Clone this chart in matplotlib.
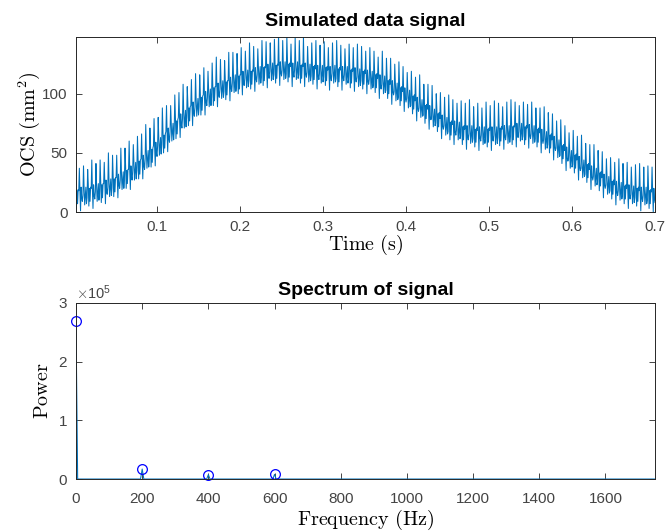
import numpy as np
import matplotlib
matplotlib.use('Agg')
from matplotlib import pyplot as plt
from matplotlib.ticker import ScalarFormatter

plt.rcParams['font.family'] = ['Liberation Sans', 'DejaVu Sans']
plt.rcParams['mathtext.fontset'] = 'cm'

# ---- top panel: simulated signal, one 5 ms pulse period at a time ----
pulse_period = 0.005  # s (200 Hz)

# baseline level of the signal band under each pulse
pulse_base = [14, 15, 15, 16, 17, 18, 19, 21, 22, 24,
              26, 28, 31, 33, 36, 39, 42, 46, 49, 53,
              57, 61, 65, 69, 73, 77, 80, 84, 87, 90,
              93, 96, 98, 101, 103, 105, 106, 108, 110, 111,
              113, 114, 115, 116, 117, 118, 119, 120, 120, 121,
              121, 121, 120, 121, 120, 120, 119, 119, 118, 118,
              118, 117, 118, 117, 117, 117, 116, 116, 115, 115,
              114, 113, 112, 110, 109, 107, 105, 103, 101, 99,
              97, 94, 91, 89, 86, 84, 81, 79, 76, 74,
              72, 71, 70, 68, 67, 67, 66, 66, 66, 66,
              66, 66, 67, 67, 67, 68, 69, 69, 68, 68,
              67, 66, 64, 62, 61, 58, 55, 52, 49, 46,
              44, 41, 38, 36, 33, 31, 29, 26, 24, 22,
              20, 19, 18, 17, 16, 16, 15, 15, 14, 14]

# height of each spike above that baseline
spike_height = [26, 22, 24, 20, 27, 23, 25, 21, 28, 24,
                22, 26, 23, 27, 21, 25, 24, 28, 22, 26,
                23, 27, 25, 21, 26, 24, 28, 22, 25, 27,
                23, 26, 21, 25, 28, 24, 22, 27, 25, 23,
                26, 22, 28, 24, 21, 27, 25, 23, 26, 29,
                24, 27, 22, 26, 25, 28, 21, 24, 27, 23,
                26, 22, 25, 28, 24, 21, 26, 23, 27, 25,
                22, 26, 24, 21, 27, 23, 25, 22, 26, 24,
                21, 25, 23, 27, 22, 24, 26, 21, 25, 23,
                27, 24, 22, 26, 25, 28, 23, 26, 22, 27,
                24, 28, 25, 22, 26, 27, 24, 21, 25, 23,
                26, 22, 24, 27, 23, 25, 22, 26, 24, 21,
                25, 23, 27, 22, 24, 26, 23, 25, 21, 24,
                22, 26, 23, 25, 22, 24, 26, 23, 25, 24]

# shapes of one period around the baseline (spike sample is index 1)
pulse_shapes = [[-4, 0, 8, -11, 4, -7, 5],
                [3, 0, 2, -14, 6, -3, -6],
                [-1, 0, 5, -9, -2, 6, -8]]

# ---- bottom panel: spectrum ----
spec_freq = [0, 5, 195, 200, 205, 395, 400, 405, 595, 600, 605, 1750]
spec_power = [2.69e5, 0, 0, 1.7e4, 0, 0, 0.75e4, 0, 0, 0.8e4, 0, 0]
peak_freq = [0, 200, 400, 600]
peak_power = [2.69e5, 1.7e4, 0.75e4, 0.8e4]

# build the sample sequence
base = np.array(pulse_base, dtype=float)
shapes = np.array([pulse_shapes[k % 3] for k in range(len(base))], dtype=float)
sig = base[:, None] + shapes
sig[:, 1] = base + np.array(spike_height)
sig = sig.ravel()
n_per = len(pulse_shapes[0])
t = np.arange(1, len(sig) + 1) * pulse_period / n_per

matlab_blue = '#0072BD'
axis_col = '#262626'

fig = plt.figure(figsize=(6.65, 5.32), dpi=100)
ax1 = fig.add_axes([0.1143, 0.6015, 0.8707, 0.329])
ax2 = fig.add_axes([0.1143, 0.0996, 0.8707, 0.331])

ax1.plot(t, sig, color=matlab_blue, lw=0.75)
ax1.set_xlim(0.0024, 0.7)
ax1.set_ylim(0, 148)
ax1.set_xticks([0.1, 0.2, 0.3, 0.4, 0.5, 0.6, 0.7])
ax1.set_xticklabels(['0.1', '0.2', '0.3', '0.4', '0.5', '0.6', '0.7'])
ax1.set_yticks([0, 50, 100])
ax1.set_title('Simulated data signal', fontsize=14, fontweight='bold', pad=8)
ax1.set_xlabel(r'$\mathrm{Time\ (s)}$', fontsize=14.5, labelpad=-1)
ax1.set_ylabel(r'$\mathrm{OCS\ (mm^2)}$', fontsize=14.5, labelpad=0)

ax2.plot(spec_freq, spec_power, color=matlab_blue, lw=0.75)
ax2.plot(peak_freq, peak_power, 'o', color='blue', mfc='none', ms=7, mew=0.9,
         clip_on=False)
ax2.set_xlim(0, 1750)
ax2.set_ylim(0, 3e5)
ax2.set_xticks(np.arange(0, 1601, 200))
ax2.set_yticks([0, 1e5, 2e5, 3e5])
fmt = ScalarFormatter(useMathText=True)
fmt.set_powerlimits((0, 0))
ax2.yaxis.set_major_formatter(fmt)
ax2.yaxis.get_offset_text().set_fontsize(10.5)
ax2.yaxis.get_offset_text().set_color('#555555')
ax2.set_title('Spectrum of signal', fontsize=14, fontweight='bold', pad=6)
ax2.set_xlabel(r'$\mathrm{Frequency\ (Hz)}$', fontsize=14.5, labelpad=2)
ax2.set_ylabel(r'$\mathrm{Power}$', fontsize=14.5, labelpad=4)

for ax in (ax1, ax2):
    ax.tick_params(direction='in', top=True, right=True, length=4, width=0.6,
                   labelsize=11, colors=axis_col, labelcolor='#444444', pad=6)
    for s in ax.spines.values():
        s.set_color(axis_col)
        s.set_linewidth(0.7)
ax2.tick_params(axis='x', pad=9)

fig.savefig('out.png', dpi=100)
